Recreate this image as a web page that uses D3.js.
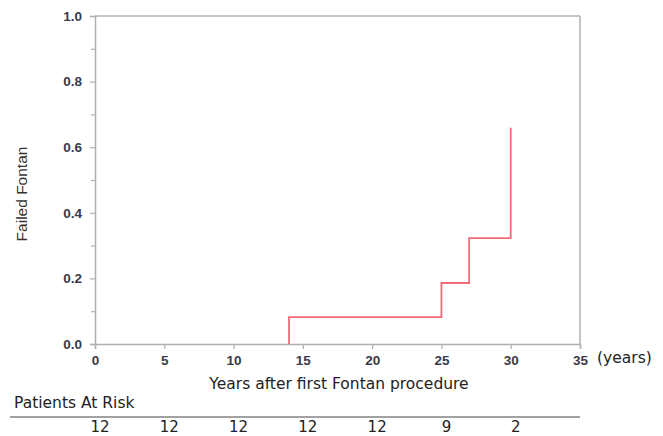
<!DOCTYPE html>
<html lang="en">
<head>
<meta charset="UTF-8">
<title>Failed Fontan</title>
<script src="https://d3js.org/d3.v7.min.js"></script>
<style>
  body { margin: 0; background: #fff; }
  svg { display: block; }
  .lbl { font-family: "DejaVu Sans", Verdana, sans-serif; font-size: 15.5px; fill: #222; }
  .ytitle { font-family: Arial, "Liberation Sans", sans-serif; font-size: 15.5px; fill: #333; }
</style>
</head>
<body>
<svg width="663" height="436"></svg>
<script>
// step curve: time (years) and cumulative failure
const stepTimes = [14, 14, 25, 27, 30];
const stepValues = [0, 0.082, 0.186, 0.323, 0.659];
const xTicks = [0, 5, 10, 15, 20, 25, 30, 35];
const yTicks = [0, 0.2, 0.4, 0.6, 0.8, 1.0];
const riskTimes = [0, 5, 10, 15, 20, 25, 30];
const riskCounts = [12, 12, 12, 12, 12, 9, 2];

const svg = d3.select("svg");
const x = d3.scaleLinear().domain([0, 35]).range([95, 580]);
const y = d3.scaleLinear().domain([0, 1]).range([344, 16]);

const axisColor = "#b0b0b0";

function styleAxis(g) {
  g.attr("font-family", "Arial, 'Liberation Sans', sans-serif").attr("font-size", 13.5);
  g.select(".domain").attr("stroke", axisColor).attr("stroke-width", 1.5);
  g.selectAll(".tick line").attr("stroke", axisColor).attr("stroke-width", 1.2);
  g.selectAll(".tick text").attr("font-weight", "bold").attr("fill", "#3a3a4a");
}

// frame top and right
svg.append("line").attr("x1", x(0)).attr("x2", x(35)).attr("y1", y(1)).attr("y2", y(1))
  .attr("stroke", axisColor).attr("stroke-width", 1.5);
svg.append("line").attr("x1", x(35)).attr("x2", x(35)).attr("y1", y(1)).attr("y2", y(0))
  .attr("stroke", axisColor).attr("stroke-width", 1.5);

// minor y ticks
svg.append("g").attr("transform", `translate(${x(0)},0)`)
  .call(d3.axisLeft(y).tickValues(d3.range(0.1, 1, 0.2)).tickSize(4).tickFormat(""))
  .call(g => g.select(".domain").remove())
  .selectAll("line").attr("stroke", axisColor).attr("stroke-width", 1.2);

svg.append("g").attr("transform", `translate(${x(0)},0)`)
  .call(d3.axisLeft(y).tickValues(yTicks).tickSize(5).tickPadding(8).tickFormat(d3.format(".1f")))
  .call(styleAxis);

svg.append("g").attr("transform", `translate(0,${y(0)})`)
  .call(d3.axisBottom(x).tickValues(xTicks).tickSize(5).tickPadding(6))
  .call(styleAxis);

// step line
const pts = stepTimes.map((t, i) => [t, stepValues[i]]);
svg.append("path").datum(pts)
  .attr("d", d3.line().x(d => x(d[0])).y(d => y(d[1])).curve(d3.curveStepAfter))
  .attr("fill", "none").attr("stroke", "#f26b7a").attr("stroke-width", 1.8);

// labels
svg.append("text").attr("class", "lbl").attr("x", 597).attr("y", 363).text("(years)");
svg.append("text").attr("class", "lbl").attr("x", 339).attr("y", 389)
  .attr("text-anchor", "middle").text("Years after first Fontan procedure");
svg.append("text").attr("class", "ytitle").attr("transform", "translate(27,194) rotate(-90)")
  .attr("text-anchor", "middle").text("Failed Fontan");
svg.append("text").attr("class", "lbl").attr("x", 14).attr("y", 408).text("Patients At Risk");
svg.append("line").attr("x1", 10).attr("x2", 580).attr("y1", 417).attr("y2", 417)
  .attr("stroke", "#444").attr("stroke-width", 1);
svg.selectAll("text.risk").data(riskCounts).join("text")
  .attr("class", "lbl risk")
  .attr("x", (d, i) => x(riskTimes[i]) + 5)
  .attr("y", 432)
  .style("font-size", "15px")
  .attr("text-anchor", "middle")
  .text(d => d);
</script>
</body>
</html>
